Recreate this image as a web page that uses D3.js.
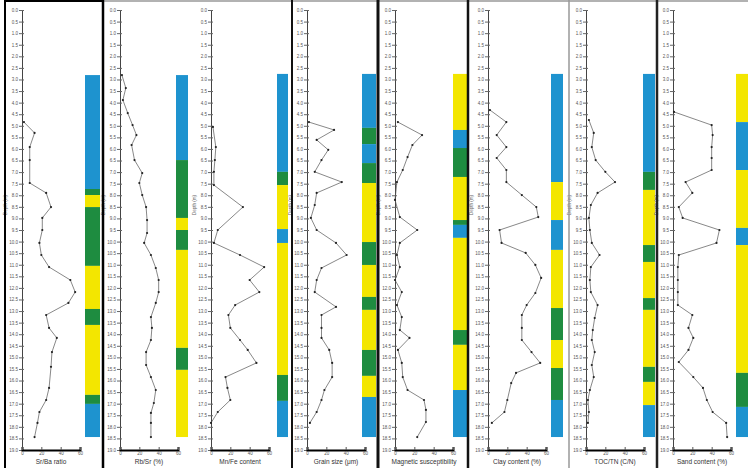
<!DOCTYPE html>
<html lang="en">
<head>
<meta charset="UTF-8">
<title>Depth profiles</title>
<script src="https://d3js.org/d3.v7.min.js"></script>
<style>
  body { margin: 0; background: #fff; font-family: "Liberation Sans", Arial, sans-serif; }
  .tick text { fill: #555; }
</style>
</head>
<body>
<svg width="748" height="468"></svg>
<script>
// sample depths (m) and values for each column
const p1Depth = [4.84, 5.31, 5.92, 6.48, 7.47, 7.90, 8.51, 8.98, 9.50, 10.06, 10.58, 11.10, 11.66, 12.18, 12.65, 13.17, 13.73, 14.16, 14.77, 15.41, 16.32, 16.84, 17.36, 17.83, 18.44];
const p1Value = [2, 13, 8, 8, 8, 25, 30, 21, 21, 18, 20, 28, 50, 55, 48, 25, 28, 36, 31, 30, 28, 25, 18, 16, 13];

const p2Depth = [2.81, 3.37, 3.89, 4.45, 4.97, 5.40, 5.83, 6.48, 7.04, 7.47, 7.99, 8.51, 9.07, 9.63, 10.06, 10.58, 11.14, 11.66, 12.18, 12.65, 13.26, 13.73, 14.25, 14.77, 15.33, 15.85, 16.41, 16.97, 17.40, 17.83, 18.44];
const p2Value = [2, 6, 3, 8, 13, 17, 12, 15, 23, 20, 23, 27, 28, 28, 25, 32, 37, 40, 40, 37, 32, 33, 32, 27, 27, 32, 37, 35, 32, 32, 32];

const p3Depth = [5.05, 5.92, 6.48, 6.99, 7.56, 8.51, 9.50, 10.06, 10.58, 11.10, 11.66, 12.18, 12.74, 13.17, 13.73, 14.25, 14.68, 15.24, 15.85, 16.32, 16.84, 17.36, 17.83];
const p3Value = [2, 5, 4, 3, 3, 33, 7, 3, 30, 55, 40, 50, 25, 18, 20, 30, 38, 47, 15, 17, 20, 7, 0];

const p4Depth = [4.84, 5.18, 5.61, 6.04, 6.48, 6.99, 7.43, 7.90, 8.42, 8.98, 9.50, 10.06, 10.58, 11.14, 11.66, 12.18, 12.82, 13.17, 13.73, 14.16, 14.68, 15.24, 15.85, 16.41, 16.84, 17.36, 17.83];
const p4Value = [2, 28, 10, 22, 15, 8, 36, 10, 8, 4, 10, 30, 41, 15, 10, 8, 30, 15, 15, 15, 23, 26, 26, 18, 15, 10, 3];

const p5Depth = [4.84, 5.40, 5.83, 6.35, 6.91, 7.43, 8.20, 8.94, 9.50, 10.06, 10.58, 11.10, 11.66, 12.18, 12.74, 13.26, 13.82, 14.16, 14.68, 15.24, 15.85, 16.41, 16.84, 17.27, 17.79, 18.44];
const p5Value = [3, 28, 18, 13, 8, 2, 0, 5, 23, 5, 2, 5, 0, 7, 2, 7, 5, 15, 3, 7, 8, 13, 30, 32, 32, 23];

const p6Depth = [4.32, 4.84, 5.40, 5.92, 6.39, 6.91, 7.43, 7.99, 8.51, 8.94, 9.50, 10.06, 10.49, 11.01, 11.57, 12.22, 12.74, 13.17, 13.73, 14.25, 14.77, 15.24, 15.67, 16.11, 16.84, 17.36, 17.83];
const p6Value = [2, 19, 9, 19, 9, 19, 19, 35, 50, 52, 12, 14, 39, 49, 55, 49, 40, 35, 35, 35, 45, 54, 29, 24, 20, 17, 4];

const p7Depth = [4.75, 5.31, 5.92, 6.48, 6.99, 7.43, 7.90, 8.42, 8.98, 9.50, 10.06, 10.58, 11.10, 11.66, 12.18, 12.74, 13.30, 13.82, 14.25, 14.77, 15.33, 15.85, 16.41, 16.84, 17.36, 17.83];
const p7Value = [3, 8, 6, 10, 20, 30, 12, 5, 3, 4, 6, 14, 5, 4, 5, 12, 9, 7, 6, 9, 6, 8, 4, 2, 3, 2];

const p8Depth = [4.40, 4.97, 5.40, 5.92, 6.39, 6.91, 7.43, 7.90, 8.51, 8.98, 9.50, 10.06, 10.58, 11.10, 11.66, 12.18, 12.74, 13.17, 13.73, 14.16, 14.68, 15.20, 15.85, 16.32, 16.84, 17.36, 17.83, 18.44];
const p8Value = [1, 40, 41, 40, 40, 40, 13, 20, 6, 10, 48, 45, 6, 5, 5, 5, 5, 20, 16, 21, 16, 6, 21, 31, 35, 41, 55, 56];

// zone boundaries (m) and facies code of each zone, per column
const p1Bounds = [2.81, 7.73, 7.99, 8.51, 11.05, 12.91, 13.60, 16.62, 17.01, 18.44];
const p1Facies = ["b", "g", "y", "g", "y", "g", "y", "g", "b"];
const p2Bounds = [2.81, 6.48, 8.98, 9.50, 10.36, 14.59, 15.54, 18.44];
const p2Facies = ["b", "g", "y", "g", "y", "g", "y"];
const p3Bounds = [2.76, 6.99, 7.56, 9.46, 10.06, 15.76, 16.88, 18.44];
const p3Facies = ["b", "g", "y", "b", "y", "g", "b"];
const p4Bounds = [2.76, 5.09, 5.79, 6.61, 7.47, 10.02, 11.01, 12.39, 12.95, 14.68, 15.80, 16.71, 18.44];
const p4Facies = ["b", "g", "b", "g", "y", "g", "y", "g", "y", "g", "y", "b"];
const p5Bounds = [2.76, 5.18, 5.96, 7.21, 9.07, 9.28, 9.84, 13.82, 14.46, 16.41, 18.44];
const p5Facies = ["y", "b", "g", "y", "g", "b", "y", "g", "y", "b"];
const p6Bounds = [2.76, 7.43, 9.07, 10.36, 12.87, 14.25, 15.46, 16.84, 18.44];
const p6Facies = ["b", "y", "b", "y", "g", "y", "g", "b"];
const p7Bounds = [2.76, 6.99, 7.77, 10.15, 10.88, 12.44, 12.95, 15.41, 16.06, 17.06, 18.44];
const p7Facies = ["b", "g", "y", "g", "y", "g", "y", "g", "y", "b"];
const p8Bounds = [2.76, 4.84, 6.91, 9.41, 10.15, 15.67, 17.14, 18.44];
const p8Facies = ["y", "b", "y", "b", "y", "g", "b"];

const titles = ["Sr/Ba ratio", "Rb/Sr (%)", "Mn/Fe content", "Grain size (μm)",
                "Magnetic susceptibility", "Clay content (%)", "TOC/TN (C/N)", "Sand content (%)"];
const valueTicks = [0, 20, 40, 60];

const faciesColor = { b: "#1e93cf", g: "#1e8c40", y: "#f3e600" };

// layout
const axisX = [22, 120, 211, 307, 395, 488, 586, 673];
const stripX = [85, 176, 277, 362, 453, 551, 643, 736];
const stripW = [15, 12, 11, 14, 14, 12, 12, 12];

const columns = [
  [p1Depth, p1Value, p1Bounds, p1Facies], [p2Depth, p2Value, p2Bounds, p2Facies],
  [p3Depth, p3Value, p3Bounds, p3Facies], [p4Depth, p4Value, p4Bounds, p4Facies],
  [p5Depth, p5Value, p5Bounds, p5Facies], [p6Depth, p6Value, p6Bounds, p6Facies],
  [p7Depth, p7Value, p7Bounds, p7Facies], [p8Depth, p8Value, p8Bounds, p8Facies]
];

const svg = d3.select("svg");
const y = d3.scaleLinear().domain([0, 19]).range([10, 450]);

columns.forEach(([depth, value, bounds, facies], i) => {
  const x = d3.scaleLinear().domain([0, 60]).range([axisX[i], axisX[i] + 58]);
  const g = svg.append("g");

  // facies strip
  g.selectAll("rect")
    .data(facies)
    .join("rect")
    .attr("x", stripX[i])
    .attr("width", stripW[i])
    .attr("y", (d, k) => y(bounds[k]))
    .attr("height", (d, k) => y(bounds[k + 1]) - y(bounds[k]))
    .attr("fill", d => faciesColor[d]);

  // depth axis
  const ya = g.append("g")
    .attr("transform", `translate(${axisX[i]},0)`)
    .call(d3.axisLeft(y).tickValues(d3.range(0, 19.01, 0.5)).tickSize(3).tickFormat(d3.format(".1f")));
  ya.select(".domain").attr("stroke", "#444").attr("stroke-width", 1);
  ya.selectAll(".tick line").attr("stroke", "#666").attr("x2", 2).attr("x1", -3);
  ya.selectAll(".tick text").attr("font-size", 4.5).attr("x", -4);

  g.append("text")
    .attr("transform", `translate(${axisX[i] - 15},205) rotate(-90)`)
    .attr("text-anchor", "middle")
    .attr("font-size", 4.5)
    .attr("fill", "#666")
    .text("Depth (m)");

  // value axis
  const xa = g.append("g")
    .attr("transform", "translate(0,450)")
    .call(d3.axisBottom(x).tickValues(valueTicks).tickSize(-3).tickPadding(2));
  xa.select(".domain").attr("stroke", "#000").attr("stroke-width", 2);
  xa.selectAll(".tick line").attr("stroke", "#555");
  xa.selectAll(".tick text").attr("font-size", 4.5);

  g.append("text")
    .attr("x", axisX[i] + 29)
    .attr("y", 464)
    .attr("text-anchor", "middle")
    .attr("font-size", 6.5)
    .attr("fill", "#333")
    .text(titles[i]);

  // profile
  const pts = depth.map((d, k) => [value[k], d]);
  g.append("path")
    .datum(pts)
    .attr("fill", "none")
    .attr("stroke", "#555")
    .attr("stroke-width", 0.7)
    .attr("d", d3.line().x(d => x(d[0])).y(d => y(d[1])));

  g.selectAll("circle")
    .data(pts)
    .join("circle")
    .attr("cx", d => x(d[0]))
    .attr("cy", d => y(d[1]))
    .attr("r", 1.1)
    .attr("fill", "#222");
});

// panel frames and separators
svg.append("rect").attr("x", 5).attr("y", 1).attr("width", 98).attr("height", 470)
  .attr("fill", "none").attr("stroke", "#000").attr("stroke-width", 2);
svg.append("line").attr("x1", 104).attr("x2", 748).attr("y1", 1).attr("y2", 1)
  .attr("stroke", "#999").attr("stroke-width", 1.5);
const seps = [[103, "#000", 2.5], [292, "#111", 2], [378, "#111", 3], [468, "#111", 2.5], [569, "#999", 1.5], [657, "#222", 2.5]];
seps.forEach(([sx, c, w]) => {
  svg.append("line").attr("x1", sx).attr("x2", sx).attr("y1", 0).attr("y2", 468)
    .attr("stroke", c).attr("stroke-width", w);
});
</script>
</body>
</html>
